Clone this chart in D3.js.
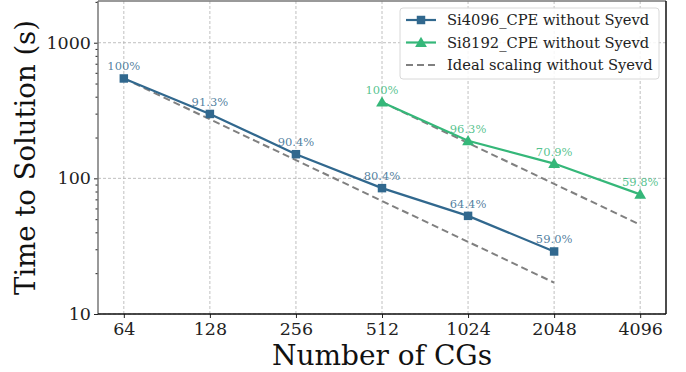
<!DOCTYPE html>
<html>
<head>
<meta charset="utf-8">
<script src="https://cdn.jsdelivr.net/npm/d3@7"></script>
<style>
  body { margin: 0; background: #fff; }
  svg { display: block; font-family: "DejaVu Serif", serif; }
</style>
</head>
<body>
<svg id="chart" width="686" height="372"></svg>
<script>
// Strong scaling data: number of CGs vs time to solution (s)
const cgCounts = [64, 128, 256, 512, 1024, 2048, 4096];
const si4096CGs = [64, 128, 256, 512, 1024, 2048];
const si4096Time = [545, 298.5, 150.7, 84.7, 52.9, 28.9];
const si4096Eff = ["100%", "91.3%", "90.4%", "80.4%", "64.4%", "59.0%"];
const si8192CGs = [512, 1024, 2048, 4096];
const si8192Time = [364.4, 189.2, 128.5, 76.2];
const si8192Eff = ["100%", "96.3%", "70.9%", "59.8%"];
const yTicks = [10, 100, 1000];
const seriesNames = ["Si4096_CPE without Syevd", "Si8192_CPE without Syevd", "Ideal scaling without Syevd"];

const blue = "#31688e", green = "#35b779", gray = "#808080";

const svg = d3.select("#chart");
const plotL = 98, plotR = 666, plotT = 1, plotB = 314;

const x = d3.scaleLog().base(2)
  .domain([Math.pow(2, 6 - 0.3), Math.pow(2, 12 + 0.3)])
  .range([plotL, plotR]);
const y = d3.scaleLog()
  .domain([10, 2030])
  .range([plotB, plotT]);

// grid
const grid = svg.append("g");
cgCounts.forEach(c => grid.append("line")
  .attr("x1", x(c)).attr("x2", x(c)).attr("y1", plotT).attr("y2", plotB)
  .attr("stroke", "#b0b0b0").attr("stroke-width", 0.8).attr("stroke-dasharray", "3,2"));
yTicks.forEach(t => grid.append("line")
  .attr("x1", plotL).attr("x2", plotR).attr("y1", y(t)).attr("y2", y(t))
  .attr("stroke", "#b0b0b0").attr("stroke-width", 0.8).attr("stroke-dasharray", "3,2"));

// axes
const xAxis = d3.axisBottom(x).tickValues(cgCounts).tickFormat(d3.format("d")).tickSize(4).tickPadding(5);
const gx = svg.append("g").attr("transform", `translate(0,${plotB})`).call(xAxis);
gx.select(".domain").remove();
gx.selectAll("text").attr("font-size", 17.5).attr("fill", "#222").attr("font-family", "DejaVu Serif");
gx.selectAll("line").attr("stroke", "#222");

const minor = [];
[10, 100, 1000].forEach(d => { for (let k = 2; k <= 9; k++) if (d * k <= 2030) minor.push(d * k); });
const gyMinor = svg.append("g").attr("transform", `translate(${plotL},0)`)
  .call(d3.axisLeft(y).tickValues(minor).tickFormat("").tickSize(2.5));
gyMinor.select(".domain").remove();
gyMinor.selectAll("line").attr("stroke", "#222");

const gy = svg.append("g").attr("transform", `translate(${plotL},0)`)
  .call(d3.axisLeft(y).tickValues(yTicks).tickFormat(d3.format("d")).tickSize(4).tickPadding(3));
gy.select(".domain").remove();
gy.selectAll("text").attr("font-size", 17.5).attr("fill", "#222").attr("font-family", "DejaVu Serif");
gy.selectAll("line").attr("stroke", "#222");

// spines
svg.append("line").attr("x1", plotL).attr("x2", plotL).attr("y1", plotT).attr("y2", plotB).attr("stroke", "#777").attr("stroke-width", 1.5);
svg.append("line").attr("x1", plotL).attr("x2", plotR).attr("y1", plotT).attr("y2", plotT).attr("stroke", "#777").attr("stroke-width", 1.5);
svg.append("line").attr("x1", plotL).attr("x2", plotR).attr("y1", plotB).attr("y2", plotB).attr("stroke", "#111").attr("stroke-width", 1.5);
svg.append("line").attr("x1", plotR).attr("x2", plotR).attr("y1", plotT).attr("y2", plotB).attr("stroke", "#111").attr("stroke-width", 1.5);

// axis titles
svg.append("text").attr("x", (plotL + plotR) / 2).attr("y", 365).attr("text-anchor", "middle")
  .attr("font-size", 28).attr("fill", "#111").text("Number of CGs");
svg.append("text").attr("transform", `translate(35,${(plotT + plotB) / 2}) rotate(-90)`)
  .attr("text-anchor", "middle").attr("font-size", 27.5).attr("fill", "#111").text("Time to Solution (s)");

const line = d3.line().x(d => x(d[0])).y(d => y(d[1]));

// ideal scaling references (halving time per doubling of CGs)
const ideal1 = si4096CGs.map((c, i) => [c, si4096Time[0] / Math.pow(2, i)]);
const ideal2 = si8192CGs.map((c, i) => [c, si8192Time[0] / Math.pow(2, i)]);
[ideal1, ideal2].forEach(pts => svg.append("path").attr("d", line(pts))
  .attr("fill", "none").attr("stroke", gray).attr("stroke-width", 2).attr("stroke-dasharray", "7,4"));

// series
const s1 = si4096CGs.map((c, i) => [c, si4096Time[i]]);
const s2 = si8192CGs.map((c, i) => [c, si8192Time[i]]);
svg.append("path").attr("d", line(s1)).attr("fill", "none").attr("stroke", blue).attr("stroke-width", 2.2);
svg.append("path").attr("d", line(s2)).attr("fill", "none").attr("stroke", green).attr("stroke-width", 2.2);

const sq = d3.symbol().type(d3.symbolSquare).size(72);
const tri = d3.symbol().type(d3.symbolTriangle).size(60);
svg.append("g").selectAll("path").data(s1).join("path")
  .attr("transform", d => `translate(${x(d[0])},${y(d[1])})`).attr("d", sq).attr("fill", blue);
svg.append("g").selectAll("path").data(s2).join("path")
  .attr("transform", d => `translate(${x(d[0])},${y(d[1]) + 1})`).attr("d", tri).attr("fill", green);

// efficiency labels
svg.append("g").selectAll("text").data(s1).join("text")
  .attr("x", d => x(d[0])).attr("y", d => y(d[1]) - 8).attr("text-anchor", "middle")
  .attr("font-size", 11.5).attr("fill", blue).attr("fill-opacity", 0.85).text((d, i) => si4096Eff[i]);
svg.append("g").selectAll("text").data(s2).join("text")
  .attr("x", d => x(d[0])).attr("y", d => y(d[1]) - 8).attr("text-anchor", "middle")
  .attr("font-size", 11.5).attr("fill", green).attr("fill-opacity", 0.85).text((d, i) => si8192Eff[i]);

// legend
const lg = svg.append("g").attr("transform", "translate(400,8)");
lg.append("rect").attr("width", 259).attr("height", 71).attr("rx", 3)
  .attr("fill", "#fff").attr("fill-opacity", 0.85).attr("stroke", "#d8d8d8");
const styles = [
  { color: blue, dash: null, marker: sq },
  { color: green, dash: null, marker: tri },
  { color: gray, dash: "7,4", marker: null }
];
seriesNames.forEach((name, i) => {
  const yy = 12 + i * 22.5;
  lg.append("line").attr("x1", 6).attr("x2", 36).attr("y1", yy).attr("y2", yy)
    .attr("stroke", styles[i].color).attr("stroke-width", 2.2)
    .attr("stroke-dasharray", styles[i].dash);
  if (styles[i].marker) lg.append("path").attr("d", styles[i].marker)
    .attr("transform", `translate(21,${yy + (i === 1 ? 1 : 0)})`).attr("fill", styles[i].color);
  lg.append("text").attr("x", 47).attr("y", yy + 5).attr("font-size", 14.7).attr("fill", "#222").text(name);
});
</script>
</body>
</html>
